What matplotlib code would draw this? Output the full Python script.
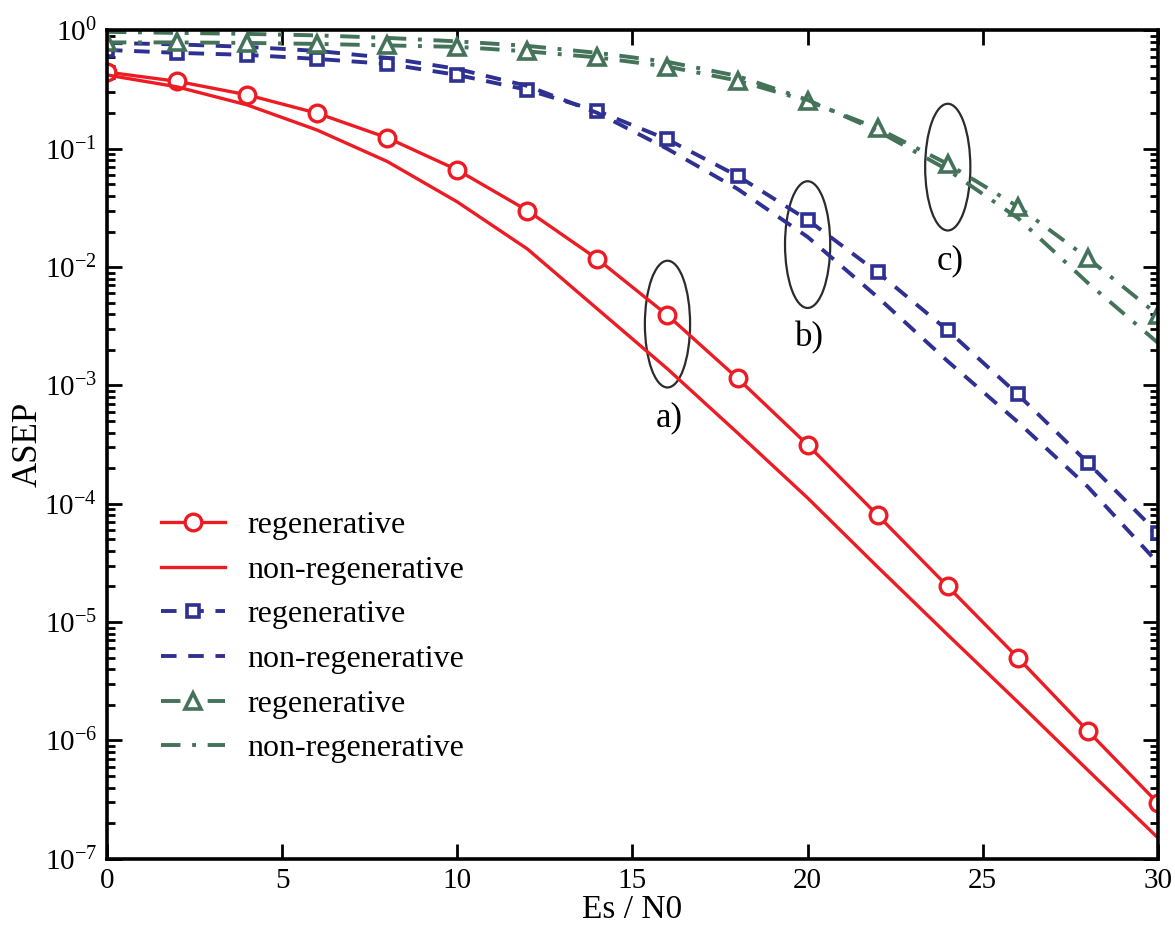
import matplotlib
matplotlib.use('Agg')
import matplotlib.pyplot as plt
from matplotlib.patches import Ellipse

plt.rcParams['font.family'] = ['Liberation Serif', 'DejaVu Serif']
plt.rcParams['mathtext.fontset'] = 'stix'
plt.rcParams['axes.unicode_minus'] = False

# Es/N0 grid (dB) and symbol error probabilities
snr = [0, 2, 4, 6, 8, 10, 12, 14, 16, 18, 20, 22, 24, 26, 28, 30]

# a) red curves
red_regen = [0.445, 0.372, 0.286, 0.200, 0.124, 0.0663, 0.0301, 0.0117,
             3.92e-3, 1.15e-3, 3.15e-4, 8.0e-5, 2.0e-5, 5.0e-6, 1.2e-6, 2.95e-7]
red_nonregen = [0.421, 0.334, 0.235, 0.144, 0.0782, 0.0356, 0.01425, 4.43e-3,
                1.38e-3, 3.97e-4, 1.12e-4, 2.92e-5, 7.8e-6, 2.11e-6, 5.6e-7, 1.5e-7]

# b) blue curves
blue_regen = [0.685, 0.647, 0.622, 0.575, 0.522, 0.421, 0.315, 0.209,
              0.120, 0.059, 0.0251, 9.02e-3, 2.92e-3, 8.4e-4, 2.22e-4, 5.63e-5]
blue_nonregen = [0.785, 0.763, 0.727, 0.672, 0.587, 0.4735, 0.340, 0.201,
                 0.0998, 0.0458, 0.0180, 5.57e-3, 1.60e-3, 4.91e-4, 1.39e-4, 3.16e-5]

# c) green curves
green_regen = [0.793, 0.793, 0.785, 0.770, 0.748, 0.727, 0.666, 0.592,
               0.495, 0.377, 0.254, 0.149, 0.0745, 0.0325, 0.01189, 3.94e-3]
green_nonregen = [0.973, 0.954, 0.936, 0.909, 0.866, 0.809, 0.741, 0.647,
                  0.543, 0.413, 0.259, 0.1417, 0.0663, 0.0260, 7.35e-3, 2.29e-3]

# groups marked with ellipses: (label, snr, ASEP at centre)
groups = [('a)', 16, 3.3e-3), ('b)', 20, 0.0155), ('c)', 24, 0.07)]

RED = '#ed1c24'
BLUE = '#2e3192'
GREEN = '#44735a'

fig = plt.figure(figsize=(11.75, 9.38), dpi=100)
ax = fig.add_axes([0.091, 0.0845, 0.8945, 0.883])

ax.plot(snr, red_regen, color=RED, lw=2.4, marker='o', ms=12, mfc='white',
        mec=RED, mew=2.4, label='regenerative')
ax.plot(snr, red_nonregen, color=RED, lw=2.4, label='non-regenerative')
ax.plot(snr, blue_regen, color=BLUE, lw=2.8, ls=(0, (4, 3)), marker='s', ms=9,
        mfc='white', mec=BLUE, mew=2.6, label='regenerative')
ax.plot(snr, blue_nonregen, color=BLUE, lw=2.8, ls=(0, (4, 3)),
        label='non-regenerative')
ax.plot(snr, green_regen, color=GREEN, lw=2.8, ls=(0, (5, 3, 1, 3)), marker='^',
        ms=12, mfc='white', mec=GREEN, mew=2.6, label='regenerative')
ax.plot(snr, green_nonregen, color=GREEN, lw=2.8, ls=(0, (5, 3, 1, 3)),
        label='non-regenerative')

ax.set_yscale('log')
ax.set_xlim(0, 30)
ax.set_ylim(1e-7, 1)
ax.set_xticks([0, 5, 10, 15, 20, 25, 30])
ax.set_xlabel('Es / N0', fontsize=24, labelpad=0)
ax.set_ylabel('ASEP', fontsize=25, labelpad=0)

ax.tick_params(which='both', direction='in', top=True, right=True,
               labelsize=21, width=2)
ax.tick_params(which='major', length=11, pad=7)
ax.tick_params(which='minor', length=6)
for sp in ax.spines.values():
    sp.set_linewidth(2.6)

# ellipses around each pair of curves, sized in axes fraction
to_axes = ax.transAxes.inverted()
for text, x, y in groups:
    cx, cy = to_axes.transform(ax.transData.transform((x, y)))
    ax.add_patch(Ellipse((cx, cy), 0.043, 0.153, transform=ax.transAxes,
                         fill=False, ec='#2b2b2b', lw=1.6))
    ax.text(cx + 0.002, cy - 0.113, text, transform=ax.transAxes, fontsize=25,
            ha='center', va='center')

ax.legend(loc='upper left', bbox_to_anchor=(0.024, 0.455), frameon=False,
          fontsize=23, handlelength=2.0, handletextpad=0.7, labelspacing=0.48,
          numpoints=1)

fig.savefig('out.png', dpi=100)
